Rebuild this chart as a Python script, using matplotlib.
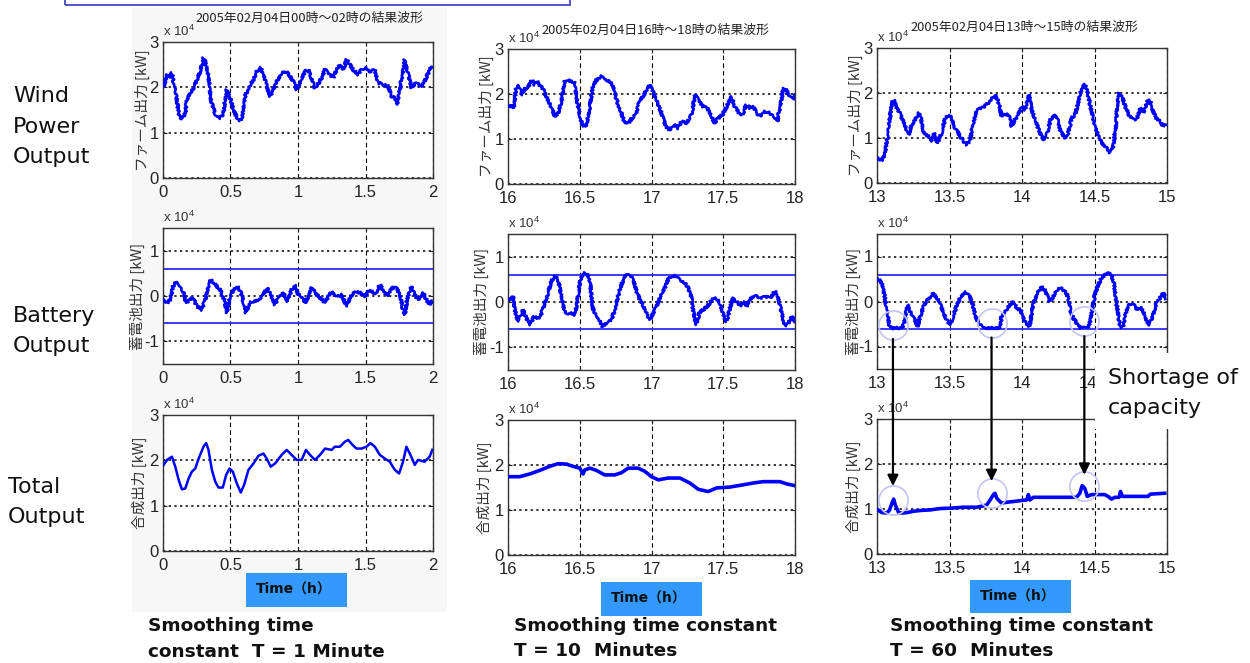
import matplotlib
matplotlib.use('Agg')
import matplotlib.pyplot as plt
from matplotlib.patches import Rectangle, ConnectionPatch

plt.rcParams['font.family'] = ['Liberation Sans', 'Noto Sans CJK JP', 'DejaVu Sans']
plt.rcParams['mathtext.fontset'] = 'custom'
plt.rcParams['mathtext.rm'] = 'Liberation Sans'

# ---------------- data (x in hours, y in 1e4 kW) ----------------
wind1_t = [0.005, 0.030, 0.054, 0.066, 0.079, 0.099, 0.116, 0.128, 0.148, 0.165, 0.177, 0.202, 0.227, 0.251,
           0.276, 0.300, 0.313, 0.337, 0.355, 0.387, 0.424, 0.448, 0.468, 0.493, 0.522, 0.559, 0.584, 0.608,
           0.633, 0.670, 0.695, 0.724, 0.744, 0.768, 0.793, 0.818, 0.842, 0.879, 0.916, 0.941, 0.966, 0.990,
           1.015, 1.052, 1.076, 1.101, 1.126, 1.163, 1.200, 1.236, 1.261, 1.286, 1.310, 1.335, 1.360, 1.384,
           1.409, 1.446, 1.470, 1.507, 1.532, 1.569, 1.594, 1.631, 1.667, 1.692, 1.717, 1.734, 1.754, 1.791,
           1.815, 1.840, 1.877, 1.914, 1.938, 1.975, 1.995]
wind1_v = [2.02, 2.28, 2.24, 2.32, 2.10, 1.80, 1.43, 1.32, 1.32, 1.43, 1.73, 1.88, 1.99, 2.17,
           2.35, 2.65, 2.57, 2.24, 1.73, 1.40, 1.32, 1.43, 1.95, 1.80, 1.51, 1.25, 1.29, 1.80,
           1.99, 2.17, 2.35, 2.43, 2.28, 2.02, 1.80, 1.95, 2.13, 2.32, 2.35, 2.24, 2.13, 1.95,
           2.10, 2.35, 2.39, 2.17, 1.99, 2.13, 2.39, 2.28, 2.21, 2.39, 2.50, 2.39, 2.61, 2.50,
           2.39, 2.28, 2.39, 2.43, 2.35, 2.39, 2.10, 2.06, 2.02, 1.80, 1.76, 1.62, 1.95, 2.61,
           2.32, 1.99, 2.10, 2.02, 2.13, 2.39, 2.46]

bat1_t = [0.005, 0.030, 0.054, 0.074, 0.099, 0.128, 0.153, 0.172, 0.197, 0.222, 0.251, 0.288, 0.313, 0.337,
          0.355, 0.387, 0.424, 0.453, 0.473, 0.498, 0.522, 0.552, 0.576, 0.596, 0.616, 0.640, 0.670, 0.707,
          0.744, 0.768, 0.798, 0.830, 0.862, 0.892, 0.921, 0.953, 0.978, 1.002, 1.027, 1.052, 1.076, 1.101,
          1.126, 1.163, 1.200, 1.224, 1.249, 1.286, 1.323, 1.360, 1.384, 1.421, 1.458, 1.495, 1.532, 1.569,
          1.606, 1.643, 1.667, 1.692, 1.729, 1.754, 1.778, 1.791, 1.808, 1.840, 1.865, 1.889, 1.926, 1.951,
          1.975, 1.995]
bat1_v = [-0.08, -0.15, -0.08, 0.21, 0.32, 0.18, 0.07, -0.15, -0.08, -0.04, -0.23, -0.30, -0.08, 0.25,
          0.36, 0.25, 0.14, -0.08, -0.37, -0.01, 0.14, 0.21, 0.10, -0.15, -0.37, -0.15, -0.12, -0.08,
          0.03, 0.18, 0.03, -0.19, -0.01, 0.07, -0.12, 0.14, 0.25, 0.03, -0.01, -0.15, -0.01, 0.18,
          0.07, -0.04, -0.15, -0.01, 0.10, -0.01, 0.03, -0.23, -0.04, 0.10, 0.07, -0.01, 0.14, 0.03,
          0.25, 0.07, -0.01, 0.18, 0.18, 0.03, -0.30, -0.41, -0.08, 0.21, 0.03, -0.08, 0.07, -0.08,
          -0.19, -0.12]

tot1_t = [0.005, 0.030, 0.066, 0.091, 0.116, 0.140, 0.165, 0.190, 0.214, 0.239, 0.264, 0.300, 0.320, 0.337,
          0.362, 0.387, 0.411, 0.443, 0.468, 0.493, 0.517, 0.547, 0.576, 0.601, 0.633, 0.670, 0.707, 0.744,
          0.768, 0.798, 0.830, 0.879, 0.916, 0.953, 0.990, 1.027, 1.059, 1.089, 1.126, 1.163, 1.200, 1.249,
          1.273, 1.310, 1.347, 1.372, 1.404, 1.433, 1.470, 1.507, 1.537, 1.569, 1.606, 1.643, 1.680, 1.717,
          1.749, 1.778, 1.803, 1.833, 1.865, 1.889, 1.938, 1.975, 1.995]
tot1_v = [1.90, 2.01, 2.08, 1.86, 1.57, 1.36, 1.38, 1.60, 1.75, 1.82, 2.04, 2.30, 2.38, 2.23,
          1.79, 1.53, 1.40, 1.40, 1.68, 1.82, 1.75, 1.49, 1.29, 1.46, 1.79, 1.93, 2.10, 2.15,
          2.04, 1.86, 1.93, 2.12, 2.23, 2.12, 2.01, 2.01, 2.23, 2.12, 2.01, 2.12, 2.26, 2.23,
          2.30, 2.30, 2.41, 2.45, 2.34, 2.26, 2.26, 2.30, 2.38, 2.30, 2.12, 2.04, 1.97, 1.79,
          1.71, 1.97, 2.30, 2.12, 1.90, 2.01, 1.97, 2.08, 2.23]

wind2_t = [16.005, 16.023, 16.040, 16.058, 16.070, 16.086, 16.100, 16.116, 16.140, 16.151, 16.170, 16.186,
           16.202, 16.221, 16.240, 16.267, 16.302, 16.326, 16.349, 16.372, 16.395, 16.419, 16.442, 16.465,
           16.481, 16.505, 16.523, 16.547, 16.570, 16.593, 16.616, 16.651, 16.681, 16.709, 16.733, 16.756,
           16.791, 16.814, 16.849, 16.872, 16.895, 16.919, 16.942, 16.965, 16.988, 17.012, 17.035, 17.070,
           17.100, 17.128, 17.156, 17.186, 17.209, 17.244, 17.267, 17.286, 17.302, 17.326, 17.360, 17.388,
           17.419, 17.435, 17.465, 17.495, 17.523, 17.558, 17.581, 17.612, 17.635, 17.658, 17.686, 17.709,
           17.733, 17.756, 17.791, 17.826, 17.860, 17.877, 17.895, 17.919, 17.942, 17.965, 17.988, 18.000]
wind2_v = [1.72, 1.76, 1.69, 2.17, 2.20, 2.09, 1.98, 2.13, 2.13, 2.24, 2.31, 2.20,
           2.28, 2.20, 2.13, 1.94, 1.72, 1.50, 1.57, 1.83, 2.28, 2.31, 2.28, 2.24,
           1.87, 1.43, 1.28, 1.32, 1.72, 2.20, 2.31, 2.39, 2.31, 2.28, 2.17, 1.87,
           1.57, 1.35, 1.39, 1.50, 1.57, 1.87, 1.94, 2.09, 2.20, 2.05, 1.87, 1.57,
           1.28, 1.20, 1.32, 1.24, 1.39, 1.35, 1.46, 1.65, 1.98, 1.87, 1.72, 1.69,
           1.50, 1.35, 1.46, 1.54, 1.72, 1.94, 1.72, 1.57, 1.54, 1.76, 1.69, 1.72,
           1.57, 1.50, 1.61, 1.57, 1.46, 1.39, 1.72, 2.13, 2.09, 1.94, 1.87, 1.98]

bat2_t = [16.005, 16.023, 16.035, 16.047, 16.070, 16.086, 16.105, 16.128, 16.156, 16.179, 16.202, 16.226,
          16.249, 16.279, 16.302, 16.326, 16.349, 16.372, 16.395, 16.419, 16.442, 16.465, 16.481, 16.505,
          16.523, 16.551, 16.570, 16.588, 16.612, 16.635, 16.658, 16.686, 16.721, 16.744, 16.767, 16.791,
          16.821, 16.849, 16.872, 16.895, 16.919, 16.947, 16.970, 16.988, 17.012, 17.035, 17.063, 17.093,
          17.116, 17.140, 17.170, 17.193, 17.221, 17.249, 17.272, 17.286, 17.302, 17.314, 17.333, 17.360,
          17.388, 17.412, 17.435, 17.458, 17.481, 17.505, 17.523, 17.547, 17.570, 17.593, 17.621, 17.644,
          17.667, 17.691, 17.721, 17.756, 17.791, 17.826, 17.860, 17.884, 17.907, 17.930, 17.953, 17.977,
          18.000]
bat2_v = [0.05, 0.09, 0.13, -0.17, -0.43, -0.32, -0.17, -0.36, -0.50, -0.32, -0.36, -0.32,
          -0.10, 0.20, 0.46, 0.57, 0.50, 0.13, -0.21, -0.28, -0.24, -0.28, -0.02, 0.50,
          0.63, 0.63, 0.50, -0.10, -0.32, -0.39, -0.54, -0.47, -0.39, -0.17, 0.13, 0.39,
          0.61, 0.57, 0.50, 0.24, 0.05, -0.10, -0.28, -0.39, -0.24, -0.10, 0.13, 0.31,
          0.50, 0.57, 0.57, 0.50, 0.46, 0.35, 0.20, -0.10, -0.39, -0.50, -0.24, -0.17,
          -0.10, 0.01, 0.09, 0.05, -0.06, -0.32, -0.43, -0.13, 0.09, 0.01, -0.10, 0.01,
          -0.10, 0.09, 0.13, 0.09, 0.13, 0.09, 0.24, 0.09, -0.24, -0.54, -0.47, -0.32,
          -0.43]

tot2_t = [16.005, 16.081, 16.151, 16.221, 16.291, 16.349, 16.407, 16.453, 16.500, 16.523, 16.535, 16.570,
          16.616, 16.674, 16.744, 16.791, 16.837, 16.907, 16.953, 17.000, 17.047, 17.116, 17.198, 17.267,
          17.326, 17.395, 17.453, 17.547, 17.640, 17.709, 17.779, 17.895, 17.942, 18.000]
tot2_v = [1.74, 1.74, 1.80, 1.88, 1.97, 2.03, 2.02, 1.97, 1.93, 1.80, 1.89, 1.93,
          1.88, 1.78, 1.78, 1.83, 1.93, 1.93, 1.86, 1.74, 1.67, 1.71, 1.71, 1.60,
          1.46, 1.41, 1.49, 1.51, 1.56, 1.60, 1.63, 1.63, 1.58, 1.54]

wind3_t = [13.005, 13.023, 13.039, 13.057, 13.073, 13.087, 13.103, 13.115, 13.133, 13.161, 13.188, 13.218,
           13.241, 13.264, 13.287, 13.303, 13.321, 13.356, 13.378, 13.394, 13.417, 13.447, 13.470, 13.493,
           13.516, 13.539, 13.573, 13.596, 13.619, 13.642, 13.665, 13.688, 13.722, 13.757, 13.791, 13.814,
           13.837, 13.860, 13.883, 13.906, 13.929, 13.952, 13.975, 13.998, 14.021, 14.048, 14.067, 14.089,
           14.124, 14.147, 14.170, 14.197, 14.220, 14.243, 14.266, 14.296, 14.319, 14.342, 14.365, 14.388,
           14.411, 14.433, 14.450, 14.472, 14.502, 14.537, 14.571, 14.606, 14.628, 14.647, 14.656, 14.670,
           14.693, 14.720, 14.743, 14.771, 14.794, 14.817, 14.839, 14.869, 14.885, 14.904, 14.927, 14.954,
           14.972, 14.995]
wind3_v = [0.56, 0.52, 0.52, 0.70, 1.04, 1.41, 1.78, 1.85, 1.70, 1.52, 1.33, 1.07,
           1.30, 1.41, 1.56, 1.44, 1.11, 1.04, 0.93, 1.11, 0.89, 1.11, 1.44, 1.52,
           1.44, 1.22, 1.04, 0.93, 0.85, 0.96, 1.33, 1.63, 1.67, 1.74, 1.89, 1.96,
           1.81, 1.48, 1.52, 1.52, 1.26, 1.41, 1.52, 1.70, 1.63, 1.96, 1.63, 1.41,
           1.11, 0.96, 1.07, 1.41, 1.52, 1.41, 1.15, 1.00, 1.11, 1.44, 1.52, 1.78,
           2.11, 2.19, 2.07, 1.70, 1.26, 0.96, 0.81, 0.68, 0.81, 1.26, 1.70, 2.00,
           1.89, 1.63, 1.48, 1.41, 1.44, 1.67, 1.56, 1.85, 1.81, 1.59, 1.44, 1.37,
           1.26, 1.30]

bat3_t = [13.005, 13.023, 13.041, 13.064, 13.087, 13.103, 13.172, 13.188, 13.211, 13.229, 13.252, 13.280,
          13.298, 13.326, 13.349, 13.372, 13.390, 13.413, 13.436, 13.459, 13.482, 13.505, 13.528, 13.550,
          13.578, 13.608, 13.631, 13.654, 13.677, 13.700, 13.722, 13.734, 13.849, 13.860, 13.890, 13.917,
          13.940, 13.963, 13.991, 14.014, 14.037, 14.055, 14.078, 14.106, 14.135, 14.165, 14.188, 14.204,
          14.234, 14.261, 14.284, 14.312, 14.335, 14.353, 14.388, 14.404, 14.456, 14.472, 14.502, 14.525,
          14.548, 14.578, 14.610, 14.633, 14.651, 14.670, 14.679, 14.697, 14.720, 14.743, 14.771, 14.794,
          14.817, 14.839, 14.862, 14.881, 14.904, 14.927, 14.950, 14.972, 14.995]
bat3_v = [0.50, 0.48, 0.33, -0.11, -0.56, -0.59, -0.59, -0.48, -0.07, -0.22, -0.33, -0.56,
          -0.33, -0.07, 0.04, 0.11, 0.19, 0.07, -0.04, -0.26, -0.41, -0.52, -0.33, -0.07,
          0.11, 0.22, 0.15, 0.00, -0.30, -0.48, -0.56, -0.59, -0.59, -0.30, -0.19, -0.07,
          0.00, -0.15, -0.19, -0.41, -0.57, -0.52, -0.04, 0.19, 0.33, 0.22, 0.00, 0.04,
          0.22, 0.30, 0.26, 0.15, -0.19, -0.37, -0.52, -0.59, -0.59, -0.41, 0.15, 0.37,
          0.52, 0.61, 0.63, 0.44, 0.00, -0.48, -0.59, -0.56, -0.19, -0.07, -0.04, -0.19,
          -0.11, -0.26, -0.44, -0.52, -0.30, -0.04, 0.07, 0.19, 0.07]

tot3_t = [13.005, 13.034, 13.069, 13.087, 13.103, 13.115, 13.126, 13.149, 13.172, 13.206, 13.252, 13.310,
          13.367, 13.436, 13.516, 13.596, 13.688, 13.734, 13.757, 13.780, 13.803, 13.814, 13.826, 13.837,
          13.860, 13.894, 13.952, 13.998, 14.032, 14.044, 14.055, 14.078, 14.170, 14.284, 14.376, 14.399,
          14.415, 14.433, 14.450, 14.479, 14.514, 14.571, 14.594, 14.617, 14.640, 14.670, 14.679, 14.693,
          14.743, 14.869, 14.885, 14.984]
tot3_v = [0.98, 0.92, 0.91, 0.98, 1.13, 1.22, 1.09, 0.92, 0.91, 0.92, 0.95, 0.97,
          0.98, 1.01, 1.02, 1.04, 1.04, 1.07, 1.09, 1.20, 1.32, 1.35, 1.24, 1.20,
          1.13, 1.15, 1.17, 1.19, 1.20, 1.32, 1.20, 1.26, 1.26, 1.26, 1.26, 1.35,
          1.52, 1.46, 1.28, 1.32, 1.32, 1.32, 1.28, 1.22, 1.26, 1.26, 1.39, 1.28,
          1.28, 1.28, 1.33, 1.35]

battery_limit = 0.6

# shortage marks (col 3): battery circle centres, total circle centres
short_t = [13.11, 13.79, 14.43]
short_bat = [-0.52, -0.48, -0.43]
short_tot = [1.20, 1.36, 1.51]
arrow_from = [-0.83, -0.80, -0.77]
arrow_to = [1.51, 1.62, 1.76]

xlims = [(0, 2), (16, 18), (13, 15)]
xticks = [[0, 0.5, 1, 1.5, 2], [16, 16.5, 17, 17.5, 18], [13, 13.5, 14, 14.5, 15]]
xticklabels = [['0', '0.5', '1', '1.5', '2'], ['16', '16.5', '17', '17.5', '18'],
               ['13', '13.5', '14', '14.5', '15']]
titles = ['2005年02月04日00時～02時の結果波形', '2005年02月04日16時～18時の結果波形',
          '2005年02月04日13時～15時の結果波形']
ylabels = ['ファーム出力 [kW]', '蓄電池出力 [kW]', '合成出力 [kW]']
captions = [('Smoothing time', 'constant  T = 1 Minute'),
            ('Smoothing time constant', 'T = 10  Minutes'),
            ('Smoothing time constant', 'T = 60  Minutes')]

# ---------------- layout (pixels) ----------------
W, H = 1250, 663
fig = plt.figure(figsize=(12.5, 6.63), dpi=100)


def fx(px):
    return px / W


def fy(py):
    return 1 - py / H


def rect(l, r, t, b):
    return [l / W, 1 - b / H, (r - l) / W, (b - t) / H]


# faint background behind the left column
fig.add_artist(Rectangle((fx(132), fy(612)), (447 - 132) / W, (612 - 8) / H,
                         transform=fig.transFigure, facecolor='#f7f7f7', edgecolor='none', zorder=-5))
# cropped frame at the top
fig.add_artist(Rectangle((fx(65), fy(5)), (570 - 65) / W, 20 / H, transform=fig.transFigure,
                         facecolor='none', edgecolor='#4646c8', lw=1.3, zorder=5))

col_x = [(163, 433), (508, 795), (877, 1167)]
row_y = [[(42, 178), (228, 364), (415, 551)],
         [(49, 184), (234, 370), (420, 555)],
         [(48, 183), (234, 369), (419, 554)]]
ylab_x = [[142, 137, 139], [486, 481, 484], [855, 853, 853]]
title_pos = [(195, 18), (541, 30), (910, 27)]

series = [[(wind1_t, wind1_v), (bat1_t, bat1_v), (tot1_t, tot1_v)],
          [(wind2_t, wind2_v), (bat2_t, bat2_v), (tot2_t, tot2_v)],
          [(wind3_t, wind3_v), (bat3_t, bat3_v), (tot3_t, tot3_v)]]
noisy = [[True, True, False], [True, True, False], [True, True, False]]
tot_lw = [1.8, 2.6, 2.6]

axes = {}
for c in range(3):
    l, r = col_x[c]
    for rr in range(3):
        t, b = row_y[c][rr]
        ax = fig.add_axes(rect(l, r, t, b))
        axes[(c, rr)] = ax
        ax.set_facecolor('white')
        xs, ys = series[c][rr]
        line, = ax.plot(xs, ys, color='#0000ff', lw=1.9 if noisy[c][rr] else tot_lw[c], zorder=3)
        if noisy[c][rr]:
            line.set_sketch_params(scale=1.2, length=2.0, randomness=2.0)
        ax.set_xlim(*xlims[c])
        ax.set_xticks(xticks[c])
        labels = list(xticklabels[c])
        if c == 2 and rr == 1:
            labels[-1] = ''  # hidden behind the "Shortage of capacity" box in the reference
        ax.set_xticklabels(labels)
        if rr == 1:
            ax.set_ylim(-1.5, 1.5)
            ax.set_yticks([-1, 0, 1])
            ax.set_yticklabels(['-1', '0', '1'])
            ax.axhline(battery_limit, color='#2b2bff', lw=1.3, zorder=2)
            ax.axhline(-battery_limit, color='#2b2bff', lw=1.3, zorder=2)
        else:
            ax.set_ylim(0, 3)
            ax.set_yticks([0, 1, 2, 3])
            ax.set_yticklabels(['0', '1', '2', '3'])
        ax.xaxis.grid(True, linestyle=(0, (4, 3)), color='k', lw=0.8)
        ax.yaxis.grid(True, linestyle=(0, (1.5, 2.2)), color='k', lw=1.1)
        ax.set_axisbelow(True)
        ax.tick_params(direction='in', length=3, top=True, right=True, labelsize=12,
                       colors='#222222', width=0.8)
        ax.tick_params(axis='x', pad=5)
        ax.tick_params(axis='y', pad=3)
        for s in ax.spines.values():
            s.set_linewidth(1.0)
            s.set_color('#333333')
        # multiplier label
        fig.text(fx(l), fy(t - 3), r'x 10$^4$', ha='left', va='bottom', fontsize=9.5, color='#333333')
        fig.text(fx(ylab_x[c][rr]), fy((t + b) / 2), ylabels[rr], rotation=90, ha='center', va='center',
                 fontsize=10.5, family=['Noto Sans CJK JP'], color='#333333')
    fig.text(fx(title_pos[c][0]), fy(title_pos[c][1]), titles[c], ha='left', va='center', fontsize=9.3,
             family=['Noto Sans CJK JP'], color='#222222')

# row labels
row_labels = [('Wind', 13, 96), ('Power', 13, 127), ('Output', 13, 157),
              ('Battery', 13, 316), ('Output', 13, 346),
              ('Total', 8, 487), ('Output', 8, 517)]
for txt, x, y in row_labels:
    fig.text(fx(x), fy(y), txt, ha='left', va='center', fontsize=16, family=['DejaVu Sans'], color='#111111')

# Time boxes
time_boxes = [(246, 347, 573, 607), (601, 702, 582, 616), (970, 1071, 580, 613)]
for (l, r, t, b) in time_boxes:
    fig.add_artist(Rectangle((fx(l), fy(b)), (r - l) / W, (b - t) / H, transform=fig.transFigure,
                             facecolor='#3399ff', edgecolor='none', zorder=6))
    fig.text(fx((l + r) / 2 - 3), fy((t + b) / 2), 'Time（h）', ha='center', va='center', fontsize=10,
             weight='bold', family=['DejaVu Sans', 'Noto Sans CJK JP'], color='#111111', zorder=7)

# captions
cap_pos = [(148, 626, 652), (514, 626, 651), (890, 626, 651)]
for (l1, l2), (x, y1, y2) in zip(captions, cap_pos):
    fig.text(fx(x), fy(y1), l1, ha='left', va='center', fontsize=13.3, weight='bold',
             family=['DejaVu Sans'], color='#111111')
    fig.text(fx(x), fy(y2), l2, ha='left', va='center', fontsize=13.3, weight='bold',
             family=['DejaVu Sans'], color='#111111')

# shortage highlights
axb = axes[(2, 1)]
axt = axes[(2, 2)]
axb.plot(short_t, short_bat, 'o', ms=21, mfc='none', mec='#c4c4f4', mew=1.2, zorder=4)
axt.plot(short_t, short_tot, 'o', ms=21, mfc='none', mec='#c4c4f4', mew=1.2, zorder=4)
for xt, y0, y1 in zip(short_t, arrow_from, arrow_to):
    cp = ConnectionPatch(xyA=(xt, y0), coordsA=axb.transData, xyB=(xt, y1), coordsB=axt.transData,
                         arrowstyle='-|>', mutation_scale=16, color='black', lw=1.6, zorder=8)
    fig.add_artist(cp)

# "Shortage of capacity" label box
fig.add_artist(Rectangle((fx(1095), fy(429)), (1250 - 1095) / W, (429 - 353) / H, transform=fig.transFigure,
                         facecolor='white', edgecolor='none', zorder=10))
fig.text(fx(1108), fy(378), 'Shortage of', ha='left', va='center', fontsize=16, family=['DejaVu Sans'],
         color='#111111', zorder=11)
fig.text(fx(1108), fy(408), 'capacity', ha='left', va='center', fontsize=16, family=['DejaVu Sans'],
         color='#111111', zorder=11)

fig.savefig('out.png', dpi=100)
